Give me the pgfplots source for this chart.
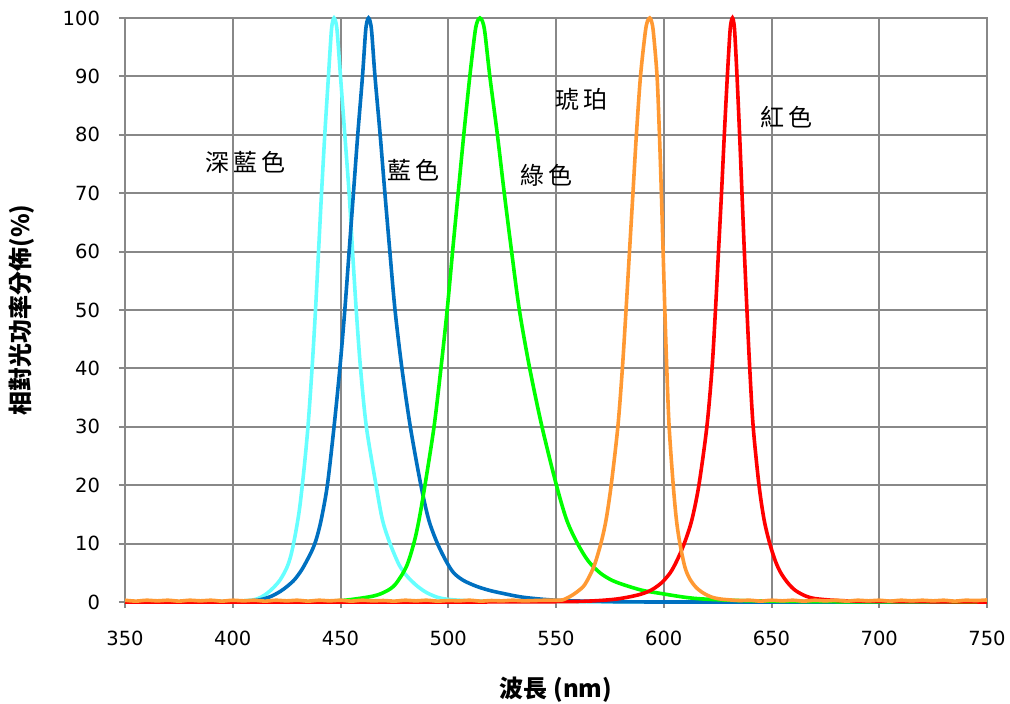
\documentclass[border=0pt]{standalone}
\usepackage{pgfplots}
\pgfplotsset{compat=1.18}
\usepackage{pgfplotstable}
\usepackage{fontspec}
\setmainfont{DejaVu Sans}
\newfontfamily\cjk{Noto Sans CJK TC}
\definecolor{cDeep}{HTML}{66FFFF}
\definecolor{cBlue}{HTML}{0070C0}
\definecolor{cGreen}{HTML}{00FF00}
\definecolor{cAmber}{HTML}{FF9933}
\definecolor{cRed}{HTML}{FF0000}
\definecolor{gridgray}{HTML}{888888}

\pgfplotstableread{
x y
350 0
390 0.02
400 0.1
405 0.2
410 0.4
413 0.8
416 1.5
419 2.5
422 3.8
425 5.8
427 8
429 11.5
431 16
433 22.5
434.9 30
436.8 40
438.4 50
439.8 60
441.2 70
442.7 80
444.4 90
445.7 97.5
446.35 99.4
447 100
447.75 99.4
448.5 97.5
450 90
452 80
454 70
455.6 60
457.3 50
459.3 40
462 30
466.5 20
469.5 14
473 10
477 6.5
480 4.8
483 3.6
486 2.6
490 1.6
495 0.8
500 0.45
510 0.2
525 0.1
560 0.05
620 0.02
750 0
}\deep

\pgfplotstableread{
x y
350 0
400 0.05
410 0.25
414 0.5
418 1
422 1.8
425 2.6
428.6 3.8
432 5.5
435 7.5
437 9
438.8 10.8
441 14
443.9 20
447 30
449.7 40
452 50
454 60
456 70
458 80
460.2 90
461.6 97.5
462.3 99.4
463 100
463.75 99.4
464.5 97.5
466 90
468.4 80
470.6 70
472.9 60
475.3 50
478.5 40
482.4 30
487.3 20
491 14
495 10
499 7
502.5 5
507 3.7
513 2.7
519 2
525 1.5
535 0.8
550 0.3
570 0.1
600 0
750 0
}\blue

\pgfplotstableread{
x y
350 0
420 0
440 0.1
452 0.3
465 1
471 1.8
475.4 3
480.5 6
484 10
486.4 14
489.2 20
493.4 30
496.6 40
499.5 50
502 60
504.6 70
507.2 80
510 90
512.4 97.5
513.5 99.4
514.7 100
515.9 99.4
517 97.5
519.3 90
522.8 80
526 70
529.4 60
533 50
537.8 40
543.5 30
550.2 20
555 14
560 10
565 7
570.4 5
575.5 3.8
581 3
590 2
598 1.5
610 0.8
619 0.5
640 0.2
680 0.05
750 0
}\green

\pgfplotstableread{
x y
350 0
500 0
550 0.05
565 0.15
578 0.5
588 1.2
594 2
599 3.3
603 5
606 7
609.5 10
613 14
616.3 20
620 30
622.4 40
624 50
625.4 60
626.8 70
628.1 80
629.5 90
630.7 97.5
631.3 99.4
631.9 100
632.4 99.4
632.95 97.5
634 90
635.2 80
636.3 70
637.4 60
638.6 50
639.9 40
641.5 30
644.2 20
646.6 14
649.2 10
651.8 7
654.3 5
657.5 3.3
661 2
666 1
672 0.5
690 0.15
750 0
}\red

\pgfplotstableread{
x y
350 0.3
355 0.15
360 0.3
365 0.2
370 0.3
375 0.15
380 0.3
385 0.2
390 0.3
395 0.15
400 0.3
405 0.2
410 0.3
415 0.15
420 0.3
425 0.2
430 0.3
435 0.15
440 0.3
445 0.2
450 0.3
455 0.15
460 0.3
465 0.2
470 0.25
475 0.15
480 0.3
485 0.2
490 0.3
495 0.15
500 0.25
505 0.2
510 0.3
515 0.15
520 0.25
525 0.2
530 0.3
535 0.2
540 0.25
545 0.3
549 0.3
553 0.35
556.8 1
560 1.8
563.4 3
567.5 6
570.8 10
573.2 14
575.6 20
578.7 30
580.8 40
582.5 50
584.1 60
585.7 70
587.3 80
589.2 90
591.4 97.5
592.4 99.4
593.5 100
594.35 99.4
595.2 97.5
596.9 90
598 80
598.9 70
599.7 60
600.5 50
601.4 40
602.5 30
604.4 20
605.9 14
607.5 10
609.8 6
612 4
615 2.5
618.5 1.5
622.5 0.8
626.5 0.5
631 0.35
635 0.25
640 0.3
645 0.15
650 0.3
655 0.2
660 0.3
665 0.15
670 0.3
675 0.2
680 0.3
685 0.15
690 0.3
695 0.2
700 0.3
705 0.15
710 0.3
715 0.2
720 0.3
725 0.2
730 0.3
735 0.15
740 0.3
745 0.25
750 0.35
}\amber

\begin{document}
\begin{tikzpicture}
\begin{axis}[
  scale only axis,
  width=431pt, height=292pt,
  xmin=350, xmax=750, ymin=0, ymax=100,
  xtick={350,400,...,750},
  ytick={0,10,...,100},
  grid=major,
  grid style={gridgray, line width=1pt},
  axis line style={gridgray, line width=1pt},
  tick style={gridgray, line width=1pt},
  tick align=outside,
  major tick length=3pt,
  xtick pos=left, ytick pos=left,
  /pgf/number format/assume math mode=true,
  tick label style={font=\fontsize{9.75}{11}\selectfont, black},
  yticklabel style={xshift=-6pt},
  xticklabel style={yshift=-8pt},
  xlabel={{\cjk\bfseries 波長 (nm)}},
  ylabel={{\cjk\bfseries 相對光功率分佈(\%)}},
  xlabel style={at={(axis description cs:0.5,0)}, anchor=center, yshift=-44pt, font=\fontsize{12}{14}\selectfont},
  ylabel style={at={(axis description cs:0,0.5)}, anchor=center, yshift=51.5pt, font=\fontsize{12}{14}\selectfont},
  clip=false,
]
\addplot[cDeep, line width=1.8pt, smooth] table {\deep};
\addplot[cBlue, line width=1.8pt, smooth] table {\blue};
\addplot[cGreen, line width=1.8pt, smooth] table {\green};
\addplot[cRed, line width=1.8pt, smooth] table {\red};
\addplot[cAmber, line width=1.8pt, smooth] table {\amber};
\node[font=\cjk\fontsize{12}{14}\selectfont] at (axis cs:406,75.3) {深\hspace{2pt}藍\hspace{2pt}色};
\node[font=\cjk\fontsize{12}{14}\selectfont] at (axis cs:484,74) {藍\hspace{2pt}色};
\node[font=\cjk\fontsize{12}{14}\selectfont] at (axis cs:545.8,73.1) {綠\hspace{2pt}色};
\node[font=\cjk\fontsize{12}{14}\selectfont] at (axis cs:561.7,86) {琥\hspace{2pt}珀};
\node[font=\cjk\fontsize{12}{14}\selectfont] at (axis cs:657,83) {紅\hspace{2pt}色};
\coordinate (ll) at (rel axis cs:0,0);
\coordinate (ur) at (rel axis cs:1,1);
\end{axis}
\pgfresetboundingbox
\path[use as bounding box] ([xshift=-62.5pt,yshift=-51pt]ll) rectangle ([xshift=11.5pt,yshift=9pt]ur);
\end{tikzpicture}
\end{document}
